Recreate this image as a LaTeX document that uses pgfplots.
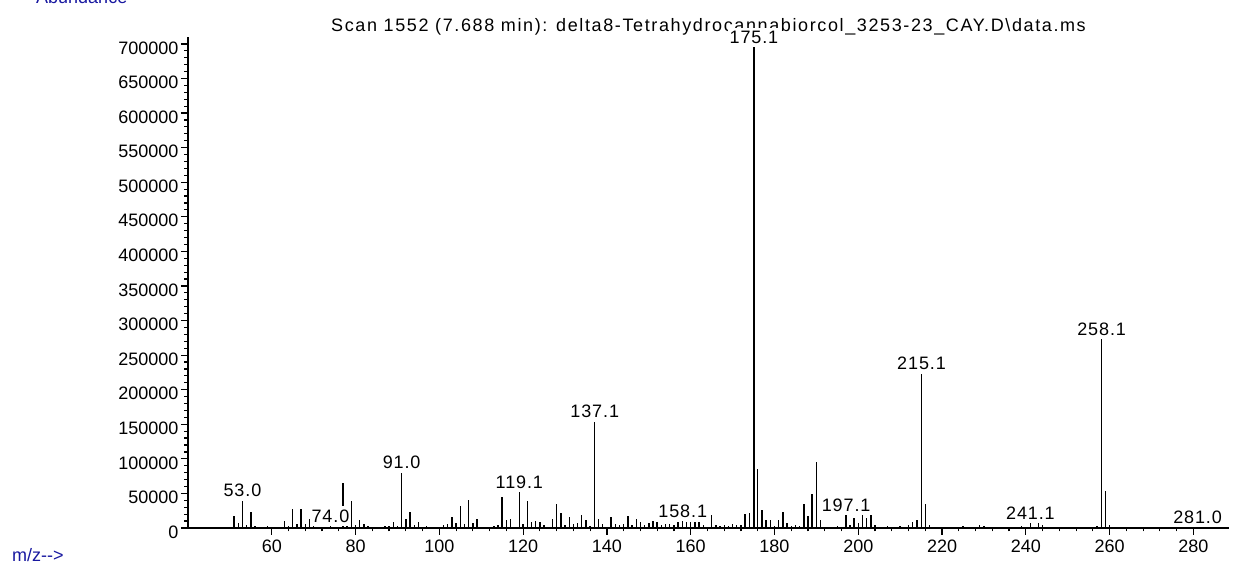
\documentclass[border=0pt]{standalone}
\usepackage{pgfplots}
\pgfplotsset{compat=1.18}
\usepackage{pgfplotstable}
\usepackage{fontspec}
\setmainfont{Liberation Sans}
\definecolor{navy}{RGB}{24,24,160}
\pgfplotstableread{
mz ab
51 17000
52 7000
53 39500
54 5000
55 23000
56 2400
57 1500
59 2400
63 9600
64 3000
65 28000
66 6500
67 28000
68 6500
69 13500
70 3000
71 2000
72 1500
73 2000
74 2500
75 1500
76 2000
77 65000
78 5000
79 39500
80 5000
81 12000
82 6000
83 2400
84 1000
85 1000
86 1000
87 2400
88 3000
89 9000
90 2500
91 80000
92 13500
93 22500
94 4000
95 9000
96 1500
97 2500
98 1000
99 1000
100 1500
101 4000
102 6300
103 16000
104 7200
105 31500
106 6300
107 41000
108 7200
109 13500
111 1000
112 2000
113 2500
114 4000
115 45000
116 11000
117 13500
118 2000
119.1 52000
120 6300
121 38500
122 8700
123 10000
124 8700
125 4000
126 1500
127 13500
128 34000
129 21000
130 4000
131 16000
132 6300
133 7700
134 18300
135 11000
136 2500
137.1 153500
138 13500
139 6300
140 1500
141 16000
142 6300
143 5000
144 6300
145 18000
146 4500
147 13500
148 8700
149 4000
150 7200
151 10000
152 8700
153 5000
154 6300
155 6300
156 4000
157 8200
158.1 10000
159 9000
160 8000
161 9000
162 8000
163 5000
164 2000
165 18300
166 4000
167 2500
168 4000
169 3000
170 6000
171 4000
172 5000
173 20700
174 21700
175.1 695000
176 85500
177 26000
178 12000
179 12000
180 3000
181 12000
182 23100
183 7200
184 3400
185 4800
186 2400
187 34700
188 16900
189 49200
190 95000
191 12000
192 1500
195 3000
196 1500
197.1 18300
198 4800
199 14500
200 7200
201 18300
202 14500
203 18300
204 4800
207 2400
210 2400
211 2000
212 4800
213 8200
214 12000
215.1 223000
216 35100
217 4800
225 2400
227 2000
229 4800
230 2400
239 2400
241.1 7200
243 7200
244 4800
257 2400
258.1 273000
259 54000
260 4800
281 1500
}\peaks
\pgfplotstableread{
mz ab label
53.0 39500 53.0
74.0 2500 74.0
91.0 80000 91.0
119.1 52000 119.1
137.1 153500 137.1
158.1 10000 158.1
175.1 695000 175.1
197.1 18300 197.1
215.1 223000 215.1
241.1 7200 241.1
258.1 273000 258.1
281.0 1500 281.0
}\labels
\begin{document}
\begin{tikzpicture}[x=1pt,y=1pt]
\node[anchor=base, font=\fontsize{18}{21}\selectfont\addfontfeature{LetterSpace=9}, inner sep=0pt] at (520.5,496) {Scan 1552 (7.688 min): delta8-Tetrahydrocannabiorcol\_3253-23\_CAY.D\textbackslash data.ms};
\node[anchor=base west, font=\fontsize{18}{21}\selectfont, text=navy, inner sep=0pt] at (-152,524) {Abundance};
\node[anchor=west, font=\fontsize{18}{21}\selectfont, text=navy, inner sep=0pt] at (-176,-27) {m/z-{}-{}>};
\begin{axis}[
  at={(0pt,0pt)}, anchor=south west,
  scale only axis, width=1041pt, height=491pt,
  xmin=40, xmax=288.5, ymin=0, ymax=710000,
  axis x line=bottom, axis y line=left,
  axis line style={-, line width=1.4pt, black},
  clip=false,
  xtick={60,80,...,280}, minor x tick num=4,
  ytick={0,50000,...,700000}, minor y tick num=4,
  tick align=outside,
  major tick length=7pt, minor tick length=3.5pt,
  every tick/.style={black, line width=1.2pt},
  scaled y ticks=false,
  /pgf/number format/fixed,
  /pgf/number format/precision=0,
  /pgf/number format/1000 sep={},
  /pgf/number format/assume math mode=true,
  ticklabel style={font=\fontsize{18}{21}\selectfont},
  yticklabel style={yshift=-4pt, xshift=1pt},
  xticklabel style={yshift=-1pt},
]
\addplot[ycomb, black, line width=1.4pt, mark=none] table[x=mz, y=ab] {\peaks};
\addplot[only marks, mark=none, nodes near coords, point meta=explicit symbolic,
  nodes near coords style={anchor=south, fill=white, inner xsep=1.5pt, inner ysep=3.5pt,
  font=\fontsize{18}{21}\selectfont\addfontfeature{LetterSpace=5}, text=black}]
  table[x=mz, y=ab, meta=label] {\labels};
\end{axis}
\pgfresetboundingbox
\path (-188,-39) rectangle (1048,528);
\end{tikzpicture}
\end{document}
